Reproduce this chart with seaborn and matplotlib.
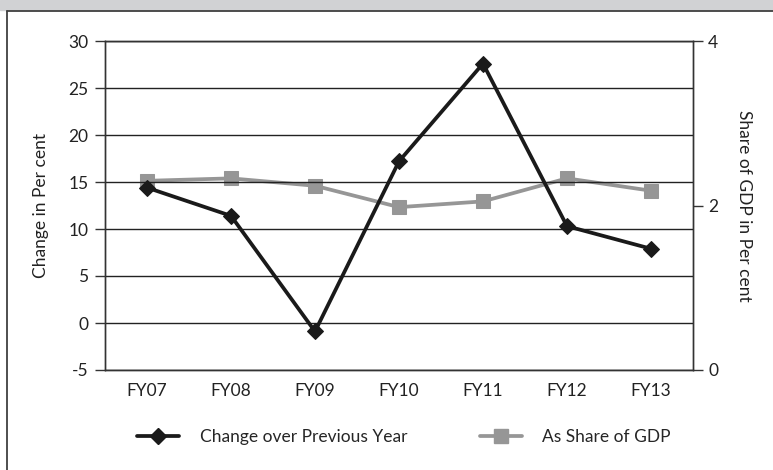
import numpy as np
import pandas as pd
import seaborn as sns
from matplotlib import pyplot as plt
from matplotlib.lines import Line2D
from matplotlib.patches import Rectangle

years = ['FY07', 'FY08', 'FY09', 'FY10', 'FY11', 'FY12', 'FY13']
change = [14.4, 11.4, -0.9, 17.2, 27.6, 10.3, 7.9]
share_gdp = [2.30, 2.33, 2.24, 1.98, 2.05, 2.33, 2.18]
left_ticks = [-5, 0, 5, 10, 15, 20, 25, 30]
right_ticks = [0, 2, 4]

df = pd.DataFrame({'year': years, 'change': change, 'share': share_gdp})
df['pos'] = np.arange(len(years))

sns.set_style('white')
plt.rcParams['font.family'] = ['Lato', 'DejaVu Sans']
plt.rcParams['font.size'] = 12.5

fig = plt.figure(figsize=(7.73, 4.7), dpi=100)
ax = fig.add_axes([105/773, 1 - 370/470, 588/773, 329/470])
ax2 = ax.twinx()

# header band and box border
fig.patches.append(Rectangle((0, 1 - 10/470), 1, 10/470, transform=fig.transFigure,
                             color='#d1d2d4', zorder=0))
fig.add_artist(Line2D([7/773, 1], [1 - 11/470, 1 - 11/470], transform=fig.transFigure,
                      color='#404040', lw=1.3))
fig.add_artist(Line2D([7/773, 7/773], [0, 1 - 11/470], transform=fig.transFigure,
                      color='#404040', lw=1.3))

black = '#1a1a1a'
grey = '#969696'

sns.lineplot(data=df, x='pos', y='change', ax=ax, color=black, lw=2.7,
             marker='D', markersize=8.5, markeredgecolor=black, sort=False, zorder=5)
sns.lineplot(data=df, x='pos', y='share', ax=ax2, color=grey, lw=2.7,
             marker='s', markersize=10, markeredgecolor=grey, sort=False, zorder=4)

ax.set_xlim(-0.5, len(years) - 0.5)
ax.set_ylim(-5, 30)
ax2.set_ylim(0, 4)
ax.set_yticks(left_ticks)
ax.set_yticklabels([str(t) for t in left_ticks])
ax2.set_yticks(right_ticks)
ax.set_xticks(df['pos'])
ax.set_xticklabels(years)
ax.tick_params(axis='x', length=0, pad=9, colors='#222222')
ax.tick_params(axis='y', length=7, width=1, color='#333333', pad=5, colors='#222222')
ax2.tick_params(axis='y', length=7, width=1, color='#333333', pad=4, colors='#222222')
for t in ax.get_yticklabels() + ax2.get_yticklabels():
    t.set_color('#222222')

ax.grid(axis='y', color='#222222', lw=1)
ax.set_axisbelow(True)
for a in (ax, ax2):
    for s in a.spines.values():
        s.set_color('#333333')
        s.set_linewidth(1)
ax2.patch.set_visible(False)
ax.set_zorder(ax2.get_zorder() + 1)
ax.patch.set_visible(False)

ax.set_xlabel('')
ax.set_ylabel('Change in Per cent', color='#222222', labelpad=14)
ax2.set_ylabel('Share of GDP in Per cent', rotation=270, color='#222222', labelpad=24)

handles = [Line2D([], [], color=black, lw=2.7, marker='D', markersize=8.5),
           Line2D([], [], color=grey, lw=2.7, marker='s', markersize=10)]
fig.legend(handles, ['Change over Previous Year', 'As Share of GDP'],
           loc='center', bbox_to_anchor=(404/773, 1 - 437/470), ncol=2,
           frameon=False, handlelength=2.4, columnspacing=4.2, handletextpad=1.2)

fig.savefig('out.png', dpi=100)
